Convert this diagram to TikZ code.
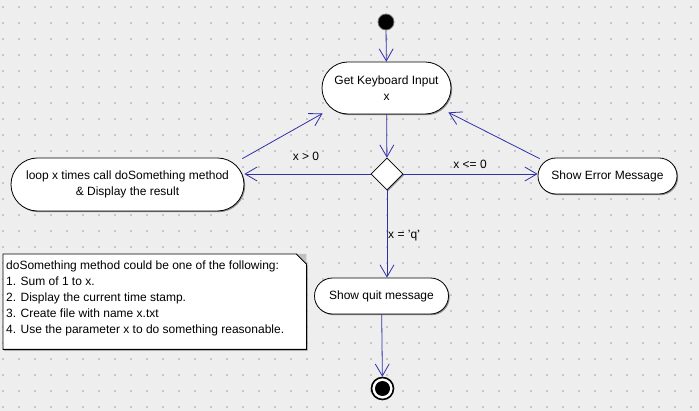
\documentclass[tikz,border=0pt]{standalone}
\usepackage{fontspec}
\setmainfont{Liberation Sans}
\usepackage{tikz}
\usetikzlibrary{calc,math}
\usetikzlibrary{shapes,arrows.meta}
\usetikzlibrary{shapes.geometric,shapes.misc}
\usetikzlibrary{shadows}

\definecolor{bgGray}{RGB}{238,238,238}
\definecolor{dotGray}{RGB}{200,200,200}
\definecolor{flowBlue}{RGB}{48,48,168}
\definecolor{foldGray}{RGB}{192,192,192}

\begin{document}
\begin{tikzpicture}[x=1pt, y=-1pt, font=\fontsize{12pt}{16pt}\selectfont,
    shade/.style={drop shadow={shadow xshift=1.2pt, shadow yshift=-1.2pt, fill=black!45, opacity=1}},
    act/.style={rounded rectangle, draw=black, fill=white, line width=0.8pt, align=center, inner sep=0pt, shade},
    flow/.style={draw=flowBlue, line width=0.8pt, -{Straight Barb[length=12pt,width=14pt]}}]
  % Canvas
  \newcommand\maxX{43}         % = dots per row - 1
  \newcommand\maxY{25}         % = dots per column - 1
  \fill[bgGray] (0,0) rectangle (699,411);
  \useasboundingbox (0,0) rectangle (699,411);
  \foreach \x in {0,...,\maxX} {
    \foreach \y in {0,...,\maxY} {
      \fill[dotGray] (2+16*\x, 6+16*\y) rectangle ++(2,2);
    }
  }

  % Nodes
  \draw (386,22) node[circle, fill=black, draw=black!55, line width=0.8pt, minimum size=16pt, inner sep=0pt] (start) {};
  \draw (386.5,88) node[act, minimum width=129pt, minimum height=52pt] (input) {Get Keyboard Input\\x};
  \draw (387,174) node[diamond, draw=black, fill=white, line width=0.8pt, minimum size=32pt, inner sep=0pt, shade] (choice) {};
  \draw (127.5,184.5) node[act, minimum width=233pt, minimum height=53pt] (loop) {loop x times call doSomething method\\\& Display the result};
  \draw (607.5,176) node[act, minimum width=139pt, minimum height=36pt] (error) {Show Error Message};
  \draw (381.5,296) node[act, minimum width=134pt, minimum height=36pt] (quit) {Show quit message};
  \draw (382.5,388.5) node[circle, draw=black, fill=white, line width=1.6pt, minimum size=22pt, inner sep=0pt] (stop) {};
  \fill[black] (stop) circle (7.5pt);

  % Note
  \draw (3,254) node[anchor=north west, minimum width=303pt, minimum height=95pt, inner sep=0pt] (note) {};
  \filldraw[fill=white, draw=black, line width=0.8pt, shade] (note.north west) -- ($(note.north east)+(-10,0)$) -- ($(note.north east)+(0,10)$) -- (note.south east) -- (note.south west) -- cycle;
  \fill[foldGray] ($(note.north east)+(-10,0)$) -- (note.north east) -- ($(note.north east)+(0,10)$) -- cycle;
  \draw[line width=0.8pt] ($(note.north east)+(-10,0)$) -- ($(note.north east)+(0,10)$);
  \draw ($(note.north west)+(3,7)$) node[anchor=north west, inner sep=0pt, align=left] (notetext)
    {doSomething method could be one of the following:\\1. Sum of 1 to x.\\2. Display the current time stamp.\\3. Create file with name x.txt\\4. Use the parameter x to do something reasonable.};

  % Flows
  \draw[flow] (start) -- (input);
  \draw[flow] (input) -- (choice);
  \draw[flow] (choice.west) -- (choice.west -| loop.east);
  \draw[flow] (choice.east) -- (choice.east -| error.west);
  \draw[flow] (choice.south) -- (choice.south |- quit.north);
  \draw[flow] ($(loop.east |- loop.north)+(-2,1)$) -- ($(input.west |- input.south)+(1,-1)$);
  \draw[flow] ($(error.west |- error.north)+(2,1)$) -- ($(input.east |- input.south)+(-3,-2)$);
  \draw[flow] (quit) -- (stop);

  % Guards
  \draw (306,156) node[] (gtzero) {x > 0};
  \draw (470,164) node[] (lezero) {x <= 0};
  \draw (388,236) node[anchor=west, inner sep=0pt] (quitkey) {x = 'q'};
\end{tikzpicture}
\end{document}
